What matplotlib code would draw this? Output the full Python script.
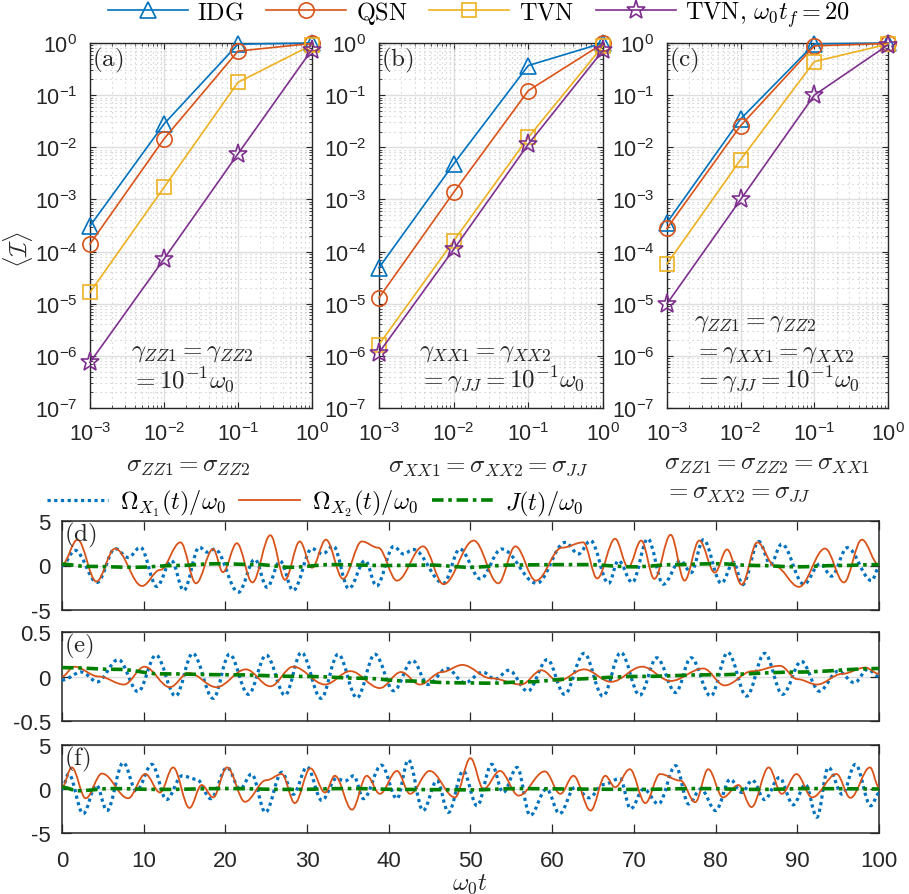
import matplotlib
matplotlib.use('Agg')
import matplotlib.pyplot as plt
from matplotlib.path import Path
from matplotlib.patches import PathPatch
from matplotlib.lines import Line2D
from matplotlib.ticker import LogLocator, NullFormatter

plt.rcParams['font.family'] = ['Liberation Sans', 'DejaVu Sans']
plt.rcParams['mathtext.fontset'] = 'custom'
plt.rcParams['mathtext.rm'] = 'Liberation Sans'
plt.rcParams['mathtext.it'] = 'Liberation Sans:italic'
plt.rcParams['axes.unicode_minus'] = False

# ---- data: averaged infidelity vs noise strength ----
sigma = [1e-3, 1e-2, 1e-1, 1.0]

a_idg = [3.1e-4, 2.8e-2, 0.95, 1.0]
a_qsn = [1.4e-4, 1.45e-2, 0.70, 0.98]
a_tvn = [1.65e-5, 1.7e-3, 0.176, 0.92]
a_tvn20 = [7.5e-7, 7.2e-5, 7.5e-3, 0.75]

b_idg = [4.9e-5, 4.8e-3, 0.37, 1.0]
b_qsn = [1.3e-5, 1.36e-3, 0.122, 0.98]
b_tvn = [1.65e-6, 1.6e-4, 1.55e-2, 0.88]
b_tvn20 = [1.15e-6, 1.1e-4, 1.15e-2, 0.72]

c_idg = [3.6e-4, 3.5e-2, 0.96, 1.0]
c_qsn = [2.8e-4, 2.6e-2, 0.88, 0.98]
c_tvn = [5.8e-5, 5.8e-3, 0.44, 0.95]
c_tvn20 = [1.0e-5, 1.0e-3, 0.10, 0.92]

# ---- data: control fields, turning points (time, value) ----
d_x1_t = [0, 1.6, 4.3, 6.5, 8.1, 9.6, 11.6, 13.4, 14.9, 16.8, 17.8, 18.7, 21.6, 23.6, 25.1, 26.7,
          28.3, 30.6, 31.9, 33.2, 35.1, 37.1, 38.5, 40.6, 41.8, 43.0, 46.7, 48.7, 51.2, 53.8, 58.1,
          61.6, 63.2, 64.7, 66.9, 68.1, 69.8, 71.7, 73.6, 75.7, 77.0, 78.5, 80.7, 82.2, 83.3, 85.3,
          86.7, 88.1, 90.8, 92.8, 94.2, 96.1, 99.1, 100]
d_x1_v = [0, 1.7, -1.9, 1.9, 0.9, 2.05, -2.35, 0.55, -2.8, 2.05, 1.5, 1.85, -3.0, 0.7, -2.45, 0.5,
          -2.8, 1.9, 1.3, 2.2, -2.6, 0.55, -2.3, 2.15, 1.3, 1.8, -2.0, 1.85, -1.5, 1.85, -2.0,
          2.6, 1.3, 2.8, -2.0, 0.55, -1.9, 3.0, -2.1, 0.55, -0.8, 2.9, -2.0, 0.35, -2.15, 2.7,
          0.15, 2.4, -2.1, 0.2, -1.2, 2.0, -1.7, -0.2]
d_x2_t = [0, 1.9, 4.2, 6.5, 9.8, 12.0, 14.5, 16.4, 18.5, 19.7, 21.4, 23.3, 25.5, 27.3, 29.1, 30.6,
          32.3, 34.4, 36.7, 38.7, 41.0, 44.2, 46.7, 50.4, 53.4, 55.5, 58.0, 61.2, 63.8, 65.5, 67.7,
          69.3, 70.9, 72.5, 74.5, 76.2, 78.0, 79.9, 81.4, 83.2, 85.1, 87.3, 90.2, 93.4, 95.7, 97.9, 100]
d_x2_v = [0.1, 2.9, -1.8, 1.9, -2.3, -0.5, 2.6, -2.0, 1.85, -0.75, 2.5, -1.9, 3.4, -1.6, 2.7, -0.25,
          2.9, -1.5, 2.7, 2.0, -1.7, 2.15, -2.1, 2.8, -2.0, 2.15, -1.7, 2.0, 2.6, -1.45, 3.0,
          -0.2, 2.8, -1.5, 3.45, -1.7, 2.8, -0.8, 1.8, -2.15, 2.6, -0.1, -2.4, 1.9, -1.9, 2.9, 0.05]
d_j_t = [0, 3, 9, 14, 19, 24, 28, 33, 40, 45, 50, 55, 60, 64, 70, 75, 80, 85, 90, 95, 100]
d_j_v = [0.15, -0.1, -0.2, 0.0, 0.2, 0.1, -0.2, 0.1, 0.0, 0.05, -0.2, 0.05, 0.1, 0.1, -0.15, 0.1, 0.2, 0.0, -0.15, 0.0, 0.1]

e_x1_t = [0, 2.4, 4.3, 6.9, 9.3, 11.5, 13.9, 16.0, 18.5, 20.5, 22.8, 25.0, 27.3, 29.3, 31.7, 33.8,
          36.1, 38.3, 40.6, 42.9, 44.8, 47.1, 49.3, 51.5, 53.0, 54.7, 57.0, 59.4, 61.5, 63.9, 66.2,
          68.4, 70.7, 72.8, 75.1, 77.0, 79.4, 81.5, 83.8, 86.0, 88.2, 90.5, 92.7, 95.0, 97.0, 98.6, 100]
e_x1_v = [-0.04, 0.05, -0.06, 0.19, -0.17, 0.24, -0.22, 0.26, -0.245, 0.25, -0.2, 0.24, -0.21, 0.27,
          -0.245, 0.25, -0.24, 0.25, -0.16, 0.18, -0.09, 0.09, -0.07, 0.05, -0.03, 0.07, -0.165,
          0.19, -0.2, 0.26, -0.22, 0.27, -0.21, 0.21, -0.18, 0.21, -0.22, 0.27, -0.22, 0.26, -0.2,
          0.17, -0.165, 0.06, -0.07, 0.08, 0.0]
e_x2_t = [0, 1.5, 4.5, 7.6, 10.1, 13.2, 15.5, 18.9, 22.5, 25.5, 28.3, 32.2, 35.3, 38.9, 41.5, 43.8,
          46.5, 49.0, 52.5, 56.2, 58.7, 60.7, 63.9, 67.2, 71.0, 74.5, 78.5, 81.1, 84.5, 87.9, 90.0,
          92.4, 95.5, 98.3, 100]
e_x2_v = [0.0, 0.11, 0.0, -0.09, 0.11, -0.12, 0.04, -0.12, 0.08, -0.11, 0.11, -0.09, 0.06, -0.13,
          0.05, -0.09, 0.05, 0.13, -0.02, -0.09, 0.07, -0.05, 0.08, -0.06, 0.11, -0.05, 0.09, -0.1,
          0.06, 0.12, -0.03, -0.09, 0.03, 0.1, 0.03]
e_j_t = [0, 7, 12, 20, 30, 37, 42, 48, 52, 57, 62, 70, 80, 90, 100]
e_j_v = [0.1, 0.08, 0.03, 0.02, 0.0, -0.02, -0.05, -0.07, -0.075, -0.06, -0.03, 0.0, 0.02, 0.05, 0.09]

f_x1_t = [0, 0.8, 2.6, 4.2, 5.5, 7.5, 9.1, 11.0, 12.8, 14.7, 16.5, 18.2, 20.2, 21.8, 23.2, 24.9,
          26.9, 28.3, 30.0, 31.8, 33.6, 34.6, 35.7, 36.9, 39.1, 41.0, 42.4, 44.2, 45.9, 47.3, 49.1,
          50.8, 52.6, 54.0, 55.7, 57.3, 59.3, 60.9, 62.8, 64.5, 66.3, 68.3, 69.6, 71.2, 73.0, 75.1,
          76.7, 78.2, 80.0, 81.8, 83.2, 84.5, 86.0, 87.8, 89.5, 91.0, 92.4, 93.8, 95.5, 97.1, 99.0, 100]
f_x1_v = [0.0, 1.7, -2.8, 0.45, -2.45, 3.0, -0.2, 2.8, -1.2, 1.5, 1.1, -1.1, 2.45, 0.0, 1.7, -2.65,
          1.9, -0.6, 2.5, -1.3, 1.2, 0.9, 1.5, -1.1, 2.7, -1.1, 3.3, -2.45, 0.95, -2.65, 2.05,
          -1.9, 2.8, -0.4, 2.45, -3.0, 0.0, -2.8, 0.2, -1.0, 0.5, 1.2, -2.25, 0.0, -1.7, 2.65,
          -1.7, 0.0, -2.45, 1.1, -0.4, 1.0, -1.2, 1.3, -1.8, 0.5, -3.2, 2.45, -0.6, 2.8, -1.9, -0.5]
f_x2_t = [0, 1.2, 2.9, 4.9, 8.1, 10.2, 12.0, 13.6, 15.6, 17.1, 18.5, 20.2, 22.4, 25.0, 26.9, 28.5,
          30.4, 32.2, 33.4, 35.5, 37.3, 38.9, 41.0, 42.6, 45.0, 48.1, 50.0, 51.6, 53.6, 55.9, 59.1,
          61.0, 62.6, 64.7, 66.5, 67.7, 69.5, 71.4, 73.2, 75.7, 77.5, 79.1, 80.9, 82.8, 84.4, 86.5,
          88.1, 89.9, 91.8, 94.8, 96.5, 98.9, 100]
f_x2_v = [0.2, 2.45, -1.05, 1.75, -1.05, 1.7, -0.4, 2.45, -2.15, 0.45, -0.95, 2.45, -1.45, 1.0, 1.7,
          -1.6, 2.35, -0.4, 1.5, -2.35, 1.5, -0.55, 2.05, -0.55, 2.05, -0.95, 3.5, 0.0, 2.05, -0.75,
          2.0, -0.55, 1.5, -2.45, 1.5, 0.2, 2.25, -1.6, 1.7, 0.95, -1.5, 2.25, -0.95, 0.45, -2.05,
          2.45, -0.55, 1.7, -0.95, 1.7, -1.0, 2.45, 0.2]
f_j_t = [0, 2, 6, 12, 20, 28, 35, 42, 50, 56, 62, 70, 78, 85, 92, 100]
f_j_v = [0.2, -0.2, 0.05, -0.05, 0.05, -0.05, 0.05, -0.05, -0.1, 0.05, 0.0, -0.05, 0.05, -0.05, 0.05, 0.0]

W, H = 909, 895
C_BLUE, C_ORANGE, C_YELLOW, C_PURPLE = '#0072BD', '#D95319', '#EDB120', '#7E2F8E'
C_GREEN = '#008000'
C_AX = '#262626'
CM = {'math_fontfamily': 'cm'}
FS_TEX = 18
FS_LEG = 17.5


def px_axes(l, t, r, b):
    return [l / W, 1 - b / H, (r - l) / W, (b - t) / H]


def px(x, y):
    return x / W, 1 - y / H


def smooth_path(t, v, k=0.36):
    # cubic Bezier segments with flat tangents at every turning point
    verts = [(t[0], v[0])]
    codes = [Path.MOVETO]
    for i in range(len(t) - 1):
        dt = t[i + 1] - t[i]
        verts += [(t[i] + k * dt, v[i]), (t[i + 1] - k * dt, v[i + 1]), (t[i + 1], v[i + 1])]
        codes += [Path.CURVE4] * 3
    return Path(verts, codes)


fig = plt.figure(figsize=(W / 100, H / 100), dpi=100)

series_style = [
    dict(color=C_BLUE, marker='^', ms=12, label=r'$\mathrm{IDG}$'),
    dict(color=C_ORANGE, marker='o', ms=11, label=r'$\mathrm{QSN}$'),
    dict(color=C_YELLOW, marker='s', ms=10, label=r'$\mathrm{TVN}$'),
    dict(color=C_PURPLE, marker='*', ms=14, label=r'$\mathrm{TVN},\,\omega_0 t_f=20$'),
]
top_panels = [
    (px_axes(90, 44, 312, 409), [a_idg, a_qsn, a_tvn, a_tvn20], '(a)'),
    (px_axes(379, 44, 603, 409), [b_idg, b_qsn, b_tvn, b_tvn20], '(b)'),
    (px_axes(667, 44, 888, 409), [c_idg, c_qsn, c_tvn, c_tvn20], '(c)'),
]

for rect, ys, tag in top_panels:
    ax = fig.add_axes(rect)
    for y, st in zip(ys, series_style):
        ax.plot(sigma, y, color=st['color'], marker=st['marker'], ms=st['ms'], mfc='none',
                mew=1.2, lw=1.2, clip_on=False, zorder=3)
    ax.set_xscale('log')
    ax.set_yscale('log')
    ax.set_xlim(1e-3, 1)
    ax.set_ylim(1e-7, 1)
    ax.set_xticks(sigma)
    ax.set_yticks([10.0 ** k for k in range(-7, 1)])
    ax.xaxis.set_minor_locator(LogLocator(base=10, subs=range(2, 10), numticks=20))
    ax.yaxis.set_minor_locator(LogLocator(base=10, subs=range(2, 10), numticks=20))
    ax.xaxis.set_minor_formatter(NullFormatter())
    ax.yaxis.set_minor_formatter(NullFormatter())
    ax.grid(True, which='major', color='#dedede', lw=1.0, ls='-')
    ax.grid(True, which='minor', color='#c4c4c4', lw=0.8, ls=(0, (1, 3.5)))
    ax.set_axisbelow(True)
    ax.tick_params(which='both', direction='in', top=True, right=True, colors=C_AX,
                   labelsize=15.5)
    ax.tick_params(which='major', length=4.5, width=0.8)
    ax.tick_params(which='minor', length=2.5, width=0.6)
    ax.tick_params(axis='x', pad=10)
    ax.tick_params(axis='y', pad=9)
    for s in ax.spines.values():
        s.set_color(C_AX)
        s.set_linewidth(1.0)
    ax.text(0.01, 0.995, r'$\mathrm{' + tag + '}$', transform=ax.transAxes, ha='left', va='top',
            fontsize=FS_TEX, color=C_AX, **CM)

handles = [Line2D([], [], color=st['color'], marker=st['marker'], ms=st['ms'], mfc='none',
                  mew=1.2, lw=1.2) for st in series_style]
fig.legend(handles, [st['label'] for st in series_style], loc='center',
           bbox_to_anchor=px(479, 15), ncol=4, frameon=False, handlelength=3.3,
           handletextpad=0.38, columnspacing=0.9,
           prop={'size': FS_LEG, 'math_fontfamily': 'cm'})

fig.text(*px(18, 250), r'$\langle\mathcal{I}\rangle$', rotation=90, ha='center', va='center',
         fontsize=FS_TEX, color=C_AX, **CM)

# parameter notes inside the top panels
note_kw = dict(ha='left', va='center', fontsize=FS_TEX, color=C_AX, **CM)
fig.text(*px(131, 352), r'$\gamma_{ZZ1}=\gamma_{ZZ2}$', **note_kw)
fig.text(*px(131, 380), r'$=10^{-1}\omega_0$', **note_kw)
fig.text(*px(419, 352), r'$\gamma_{XX1}=\gamma_{XX2}$', **note_kw)
fig.text(*px(419, 380), r'$=\gamma_{JJ}=10^{-1}\omega_0$', **note_kw)
fig.text(*px(694, 322), r'$\gamma_{ZZ1}=\gamma_{ZZ2}$', **note_kw)
fig.text(*px(694, 353), r'$=\gamma_{XX1}=\gamma_{XX2}$', **note_kw)
fig.text(*px(694, 380), r'$=\gamma_{JJ}=10^{-1}\omega_0$', **note_kw)

lab_kw = dict(va='center', fontsize=FS_TEX, color=C_AX, **CM)
fig.text(*px(188, 466), r'$\sigma_{ZZ1}=\sigma_{ZZ2}$', ha='center', **lab_kw)
fig.text(*px(488, 466), r'$\sigma_{XX1}=\sigma_{XX2}=\sigma_{JJ}$', ha='center', **lab_kw)
fig.text(*px(664, 464), r'$\sigma_{ZZ1}=\sigma_{ZZ2}=\sigma_{XX1}$', ha='left', **lab_kw)
fig.text(*px(664, 492), r'$=\sigma_{XX2}=\sigma_{JJ}$', ha='left', **lab_kw)

# ---- control field panels ----
x1_style = dict(edgecolor=C_BLUE, lw=2.3, linestyle=(0, (1.0, 1.1)), capstyle='butt')
x2_style = dict(edgecolor=C_ORANGE, lw=1.3, linestyle='-')
j_style = dict(edgecolor=C_GREEN, lw=2.6, linestyle=(0, (3.2, 1.3, 1.0, 1.3)))

bottom_panels = [
    (px_axes(62, 522, 879, 611), (d_x1_t, d_x1_v), (d_x2_t, d_x2_v), (d_j_t, d_j_v), 5, [-5, 0, 5], ['-5', '0', '5'], '(d)'),
    (px_axes(62, 633, 879, 722), (e_x1_t, e_x1_v), (e_x2_t, e_x2_v), (e_j_t, e_j_v), 0.5, [-0.5, 0, 0.5], ['-0.5', '0', '0.5'], '(e)'),
    (px_axes(62, 746, 879, 834), (f_x1_t, f_x1_v), (f_x2_t, f_x2_v), (f_j_t, f_j_v), 5, [-5, 0, 5], ['-5', '0', '5'], '(f)'),
]
for n, (rect, s1, s2, sj, lim, yt, ytl, tag) in enumerate(bottom_panels):
    ax = fig.add_axes(rect)
    ax.add_patch(PathPatch(smooth_path(*s1), fill=False, zorder=3, **x1_style))
    ax.add_patch(PathPatch(smooth_path(*s2), fill=False, zorder=4, **x2_style))
    ax.add_patch(PathPatch(smooth_path(*sj), fill=False, zorder=5, **j_style))
    ax.set_xlim(0, 100)
    ax.set_ylim(-lim, lim)
    ax.set_xticks(range(0, 101, 10))
    ax.set_yticks(yt)
    ax.set_yticklabels(ytl)
    ax.yaxis.grid(True, color='#dedede', lw=1.0)
    ax.set_axisbelow(True)
    ax.tick_params(direction='in', top=True, right=True, colors=C_AX, labelsize=16,
                   length=6.5, width=0.9)
    ax.tick_params(axis='y', pad=8)
    ax.tick_params(axis='x', pad=12)
    if n < 2:
        ax.set_xticklabels([])
    for s in ax.spines.values():
        s.set_color(C_AX)
        s.set_linewidth(1.1)
    ax.text(0.003, 1.01, r'$\mathrm{' + tag + '}$', transform=ax.transAxes, ha='left', va='top',
            fontsize=FS_TEX, color=C_AX, zorder=6, **CM)

fig.text(*px(470, 884), r'$\omega_0 t$', ha='center', va='center', fontsize=FS_TEX, color=C_AX, **CM)

field_handles = [
    Line2D([], [], color=C_BLUE, lw=2.3, linestyle=(0, (1.0, 1.1))),
    Line2D([], [], color=C_ORANGE, lw=1.3),
    Line2D([], [], color=C_GREEN, lw=2.6, linestyle=(0, (3.2, 1.3, 1.0, 1.3))),
]
fig.legend(field_handles, [r'$\Omega_{X_1}(t)/\omega_0$', r'$\Omega_{X_2}(t)/\omega_0$', r'$J(t)/\omega_0$'],
           loc='center', bbox_to_anchor=px(315, 504), ncol=3, frameon=False, handlelength=2.5,
           handletextpad=0.5, columnspacing=0.55, prop={'size': FS_LEG, 'math_fontfamily': 'cm'})

fig.savefig('out.png', dpi=100)
